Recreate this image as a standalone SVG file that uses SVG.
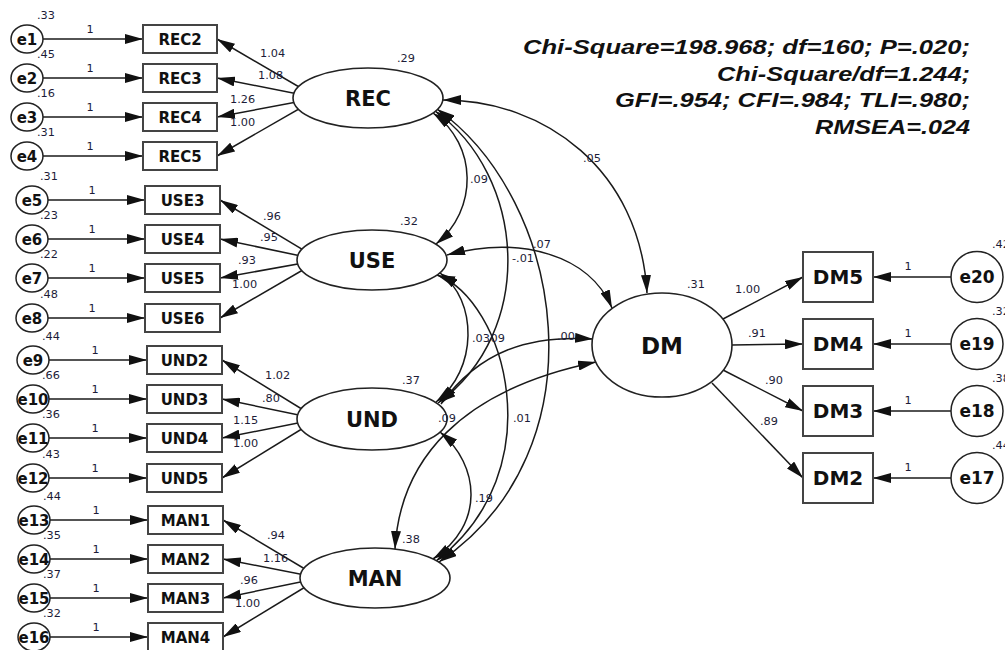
<svg xmlns="http://www.w3.org/2000/svg" width="1005" height="650" viewBox="0 0 1005 650">
<defs>
<marker id="ah" viewBox="0 0 18 10" refX="18" refY="5" markerWidth="18" markerHeight="10" markerUnits="userSpaceOnUse" orient="auto-start-reverse"><path d="M0,0 L18,5 L0,10 z" fill="#111"/></marker>
<style>
.ln{fill:none;stroke:#1a1a1a;stroke-width:1.5;marker-end:url(#ah)}
.cv{fill:none;stroke:#1a1a1a;stroke-width:1.5;marker-start:url(#ah);marker-end:url(#ah)}
.err{fill:#fff;stroke:#222;stroke-width:1.5}
.box{fill:#fff;stroke:#444;stroke-width:2}
.lat{fill:#fff;stroke:#222;stroke-width:1.6}
.t{font-family:"DejaVu Sans","Liberation Sans",sans-serif;font-weight:bold;fill:#111;text-anchor:middle}
.n{font-family:"DejaVu Sans","Liberation Sans",sans-serif;font-size:11.3px;fill:#1c1c38}
.c{text-anchor:middle}
.fit{font-family:"Liberation Sans",Arial,sans-serif;font-size:20.5px;font-weight:bold;font-style:italic;fill:#111;text-anchor:end}
</style>
</defs>
<rect width="1005" height="650" fill="#fff"/>

<g id="connectors">
<path class="ln" d="M43,39 H143"/>
<path class="ln" d="M43,78 H143"/>
<path class="ln" d="M43,117 H143"/>
<path class="ln" d="M43,156 H143"/>
<path class="ln" d="M48,200 H145"/>
<path class="ln" d="M48,239 H145"/>
<path class="ln" d="M48,278 H145"/>
<path class="ln" d="M48,318 H145"/>
<path class="ln" d="M49,360 H147"/>
<path class="ln" d="M49,399 H147"/>
<path class="ln" d="M49,438 H147"/>
<path class="ln" d="M49,478 H147"/>
<path class="ln" d="M50,520 H148"/>
<path class="ln" d="M50,559 H148"/>
<path class="ln" d="M50,598 H148"/>
<path class="ln" d="M50,637 H148"/>
<path class="ln" d="M318,98 L217,39"/>
<path class="ln" d="M318,98 L217,78"/>
<path class="ln" d="M318,98 L217,117"/>
<path class="ln" d="M318,98 L217,156"/>
<path class="ln" d="M320,260 L220,200"/>
<path class="ln" d="M320,260 L220,239"/>
<path class="ln" d="M320,260 L220,278"/>
<path class="ln" d="M320,260 L220,318"/>
<path class="ln" d="M318,419 L222,360"/>
<path class="ln" d="M318,419 L222,399"/>
<path class="ln" d="M318,419 L222,438"/>
<path class="ln" d="M318,419 L222,478"/>
<path class="ln" d="M320,578 L223,520"/>
<path class="ln" d="M320,578 L223,559"/>
<path class="ln" d="M320,578 L223,598"/>
<path class="ln" d="M320,578 L223,637"/>
<path class="ln" d="M723,319 L803,277"/>
<path class="ln" d="M732,345 L803,344"/>
<path class="ln" d="M723,370 L803,411"/>
<path class="ln" d="M712,383 L803,478"/>
<path class="ln" d="M951,277 H873"/>
<path class="ln" d="M951,344 H873"/>
<path class="ln" d="M951,411 H873"/>
<path class="ln" d="M951,478 H873"/>
<path class="cv" d="M433,113 C478,145 478,210 436,244"/>
<path class="cv" d="M435,111 C525,175 538,330 438,403"/>
<path class="cv" d="M437,109 C565,200 605,450 439,562"/>
<path class="cv" d="M443,100 C545,100 640,170 647,293"/>
<path class="cv" d="M440,273 C478,300 478,370 436,402"/>
<path class="cv" d="M437,275 C505,300 555,470 436,561"/>
<path class="cv" d="M447,255 C520,235 590,255 612,308"/>
<path class="cv" d="M441,404 C480,350 530,335 593,339"/>
<path class="cv" d="M395,549 C400,460 460,390 596,362"/>
<path class="cv" d="M440,432 C480,465 485,525 433,559"/>
</g>

<g id="e1"><ellipse class="err" cx="27" cy="39" rx="16" ry="14"/><text class="t" x="27" y="44.5" font-size="15">e1</text></g>
<g id="e2"><ellipse class="err" cx="27" cy="78" rx="16" ry="14"/><text class="t" x="27" y="83.5" font-size="15">e2</text></g>
<g id="e3"><ellipse class="err" cx="27" cy="117" rx="16" ry="14"/><text class="t" x="27" y="122.5" font-size="15">e3</text></g>
<g id="e4"><ellipse class="err" cx="27" cy="156" rx="16" ry="14"/><text class="t" x="27" y="161.5" font-size="15">e4</text></g>
<g id="e5"><ellipse class="err" cx="32" cy="200" rx="16" ry="14"/><text class="t" x="32" y="205.5" font-size="15">e5</text></g>
<g id="e6"><ellipse class="err" cx="32" cy="239" rx="16" ry="14"/><text class="t" x="32" y="244.5" font-size="15">e6</text></g>
<g id="e7"><ellipse class="err" cx="32" cy="278" rx="16" ry="14"/><text class="t" x="32" y="283.5" font-size="15">e7</text></g>
<g id="e8"><ellipse class="err" cx="32" cy="318" rx="16" ry="14"/><text class="t" x="32" y="323.5" font-size="15">e8</text></g>
<g id="e9"><ellipse class="err" cx="33" cy="360" rx="16" ry="14"/><text class="t" x="33" y="365.5" font-size="15">e9</text></g>
<g id="e10"><ellipse class="err" cx="33" cy="399" rx="16" ry="14"/><text class="t" x="33" y="404.5" font-size="15">e10</text></g>
<g id="e11"><ellipse class="err" cx="33" cy="438" rx="16" ry="14"/><text class="t" x="33" y="443.5" font-size="15">e11</text></g>
<g id="e12"><ellipse class="err" cx="33" cy="478" rx="16" ry="14"/><text class="t" x="33" y="483.5" font-size="15">e12</text></g>
<g id="e13"><ellipse class="err" cx="34" cy="520" rx="16" ry="14"/><text class="t" x="34" y="525.5" font-size="15">e13</text></g>
<g id="e14"><ellipse class="err" cx="34" cy="559" rx="16" ry="14"/><text class="t" x="34" y="564.5" font-size="15">e14</text></g>
<g id="e15"><ellipse class="err" cx="34" cy="598" rx="16" ry="14"/><text class="t" x="34" y="603.5" font-size="15">e15</text></g>
<g id="e16"><ellipse class="err" cx="34" cy="637" rx="16" ry="14"/><text class="t" x="34" y="642.5" font-size="15">e16</text></g>

<g id="REC2"><rect class="box" x="143" y="25" width="74" height="28"/><text class="t" x="180" y="44.5" font-size="15">REC2</text></g>
<g id="REC3"><rect class="box" x="143" y="64" width="74" height="28"/><text class="t" x="180" y="83.5" font-size="15">REC3</text></g>
<g id="REC4"><rect class="box" x="143" y="103" width="74" height="28"/><text class="t" x="180" y="122.5" font-size="15">REC4</text></g>
<g id="REC5"><rect class="box" x="143" y="142" width="74" height="28"/><text class="t" x="180" y="161.5" font-size="15">REC5</text></g>
<g id="USE3"><rect class="box" x="145" y="186" width="75" height="28"/><text class="t" x="182.5" y="205.5" font-size="15">USE3</text></g>
<g id="USE4"><rect class="box" x="145" y="225" width="75" height="28"/><text class="t" x="182.5" y="244.5" font-size="15">USE4</text></g>
<g id="USE5"><rect class="box" x="145" y="264" width="75" height="28"/><text class="t" x="182.5" y="283.5" font-size="15">USE5</text></g>
<g id="USE6"><rect class="box" x="145" y="304" width="75" height="28"/><text class="t" x="182.5" y="323.5" font-size="15">USE6</text></g>
<g id="UND2"><rect class="box" x="147" y="346" width="75" height="28"/><text class="t" x="184.5" y="365.5" font-size="15">UND2</text></g>
<g id="UND3"><rect class="box" x="147" y="385" width="75" height="28"/><text class="t" x="184.5" y="404.5" font-size="15">UND3</text></g>
<g id="UND4"><rect class="box" x="147" y="424" width="75" height="28"/><text class="t" x="184.5" y="443.5" font-size="15">UND4</text></g>
<g id="UND5"><rect class="box" x="147" y="464" width="75" height="28"/><text class="t" x="184.5" y="483.5" font-size="15">UND5</text></g>
<g id="MAN1"><rect class="box" x="148" y="506" width="75" height="28"/><text class="t" x="185.5" y="525.5" font-size="15">MAN1</text></g>
<g id="MAN2"><rect class="box" x="148" y="545" width="75" height="28"/><text class="t" x="185.5" y="564.5" font-size="15">MAN2</text></g>
<g id="MAN3"><rect class="box" x="148" y="584" width="75" height="28"/><text class="t" x="185.5" y="603.5" font-size="15">MAN3</text></g>
<g id="MAN4"><rect class="box" x="148" y="623" width="75" height="28"/><text class="t" x="185.5" y="642.5" font-size="15">MAN4</text></g>

<g id="REC"><ellipse class="lat" cx="368" cy="98" rx="75" ry="30"/><text class="t" x="368" y="106" font-size="21">REC</text></g>
<g id="USE"><ellipse class="lat" cx="372" cy="260" rx="75" ry="30"/><text class="t" x="372" y="268" font-size="21">USE</text></g>
<g id="UND"><ellipse class="lat" cx="372" cy="419" rx="75" ry="31"/><text class="t" x="372" y="427" font-size="21">UND</text></g>
<g id="MAN"><ellipse class="lat" cx="375" cy="578" rx="75" ry="30"/><text class="t" x="375" y="586" font-size="21">MAN</text></g>
<g id="DM"><ellipse class="lat" cx="662" cy="345" rx="70" ry="52"/><text class="t" x="662" y="353.5" font-size="23">DM</text></g>

<g id="DM5"><rect class="box" x="803" y="252" width="70" height="50"/><text class="t" x="838" y="284.3" font-size="20">DM5</text></g>
<g id="DM4"><rect class="box" x="803" y="319" width="70" height="50"/><text class="t" x="838" y="351.3" font-size="20">DM4</text></g>
<g id="DM3"><rect class="box" x="803" y="386" width="70" height="50"/><text class="t" x="838" y="418.3" font-size="20">DM3</text></g>
<g id="DM2"><rect class="box" x="803" y="453" width="70" height="50"/><text class="t" x="838" y="485.3" font-size="20">DM2</text></g>

<g id="e20"><ellipse class="err" cx="977" cy="277" rx="26" ry="25.5"/><text class="t" x="977" y="283" font-size="17">e20</text></g>
<g id="e19"><ellipse class="err" cx="977" cy="344" rx="26" ry="25.5"/><text class="t" x="977" y="350" font-size="17">e19</text></g>
<g id="e18"><ellipse class="err" cx="977" cy="411" rx="26" ry="25.5"/><text class="t" x="977" y="417" font-size="17">e18</text></g>
<g id="e17"><ellipse class="err" cx="977" cy="478" rx="26" ry="25.5"/><text class="t" x="977" y="484" font-size="17">e17</text></g>

<g id="labels">
<text class="n" x="37" y="19">.33</text>
<text class="n" x="37" y="58">.45</text>
<text class="n" x="37" y="97">.16</text>
<text class="n" x="37" y="136">.31</text>
<text class="n" x="40" y="180">.31</text>
<text class="n" x="40" y="219">.23</text>
<text class="n" x="40" y="258">.22</text>
<text class="n" x="40" y="298">.48</text>
<text class="n" x="42" y="340">.44</text>
<text class="n" x="42" y="379">.66</text>
<text class="n" x="42" y="418">.36</text>
<text class="n" x="42" y="458">.43</text>
<text class="n" x="43" y="500">.44</text>
<text class="n" x="43" y="539">.35</text>
<text class="n" x="43" y="578">.37</text>
<text class="n" x="43" y="617">.32</text>
<text class="n c" x="90" y="33">1</text>
<text class="n c" x="90" y="72">1</text>
<text class="n c" x="90" y="111">1</text>
<text class="n c" x="90" y="150">1</text>
<text class="n c" x="92" y="194">1</text>
<text class="n c" x="92" y="233">1</text>
<text class="n c" x="92" y="272">1</text>
<text class="n c" x="92" y="312">1</text>
<text class="n c" x="95" y="354">1</text>
<text class="n c" x="95" y="393">1</text>
<text class="n c" x="95" y="432">1</text>
<text class="n c" x="95" y="472">1</text>
<text class="n c" x="96" y="514">1</text>
<text class="n c" x="96" y="553">1</text>
<text class="n c" x="96" y="592">1</text>
<text class="n c" x="96" y="631">1</text>
<text class="n" x="260" y="57">1.04</text>
<text class="n" x="258" y="79">1.08</text>
<text class="n" x="230" y="103">1.26</text>
<text class="n" x="230" y="126">1.00</text>
<text class="n" x="263" y="220">.96</text>
<text class="n" x="260" y="241">.95</text>
<text class="n" x="238" y="264">.93</text>
<text class="n" x="232" y="288">1.00</text>
<text class="n" x="265" y="379">1.02</text>
<text class="n" x="262" y="402">.80</text>
<text class="n" x="233" y="424">1.15</text>
<text class="n" x="233" y="447">1.00</text>
<text class="n" x="267" y="539">.94</text>
<text class="n" x="263" y="562">1.16</text>
<text class="n" x="240" y="584">.96</text>
<text class="n" x="235" y="607">1.00</text>
<text class="n" x="397" y="62">.29</text>
<text class="n" x="400" y="225">.32</text>
<text class="n" x="402" y="384">.37</text>
<text class="n" x="402" y="543">.38</text>
<text class="n" x="687" y="288">.31</text>
<text class="n" x="735" y="293">1.00</text>
<text class="n" x="748" y="337">.91</text>
<text class="n" x="765" y="384">.90</text>
<text class="n" x="760" y="425">.89</text>
<text class="n c" x="908" y="270">1</text>
<text class="n c" x="908" y="337">1</text>
<text class="n c" x="908" y="404">1</text>
<text class="n c" x="908" y="471">1</text>
<text class="n" x="992" y="248">.42</text>
<text class="n" x="992" y="315">.32</text>
<text class="n" x="992" y="382">.38</text>
<text class="n" x="992" y="449">.44</text>
<text class="n" x="583" y="162">.05</text>
<text class="n" x="470" y="183">.09</text>
<text class="n" x="533" y="248">.07</text>
<text class="n" x="512" y="262">-.01</text>
<text class="n" x="472" y="342">.03</text>
<text class="n" x="487" y="342">.09</text>
<text class="n" x="557" y="340">.00</text>
<text class="n" x="438" y="422">.09</text>
<text class="n" x="513" y="422">.01</text>
<text class="n" x="475" y="502">.19</text>
<text class="fit" x="970" y="54" textLength="447" lengthAdjust="spacingAndGlyphs">Chi-Square=198.968; df=160; P=.020;</text>
<text class="fit" x="970" y="81" textLength="253" lengthAdjust="spacingAndGlyphs">Chi-Square/df=1.244;</text>
<text class="fit" x="970" y="107" textLength="355" lengthAdjust="spacingAndGlyphs">GFI=.954; CFI=.984; TLI=.980;</text>
<text class="fit" x="970" y="134" textLength="155" lengthAdjust="spacingAndGlyphs">RMSEA=.024</text>
</g>
</svg>
